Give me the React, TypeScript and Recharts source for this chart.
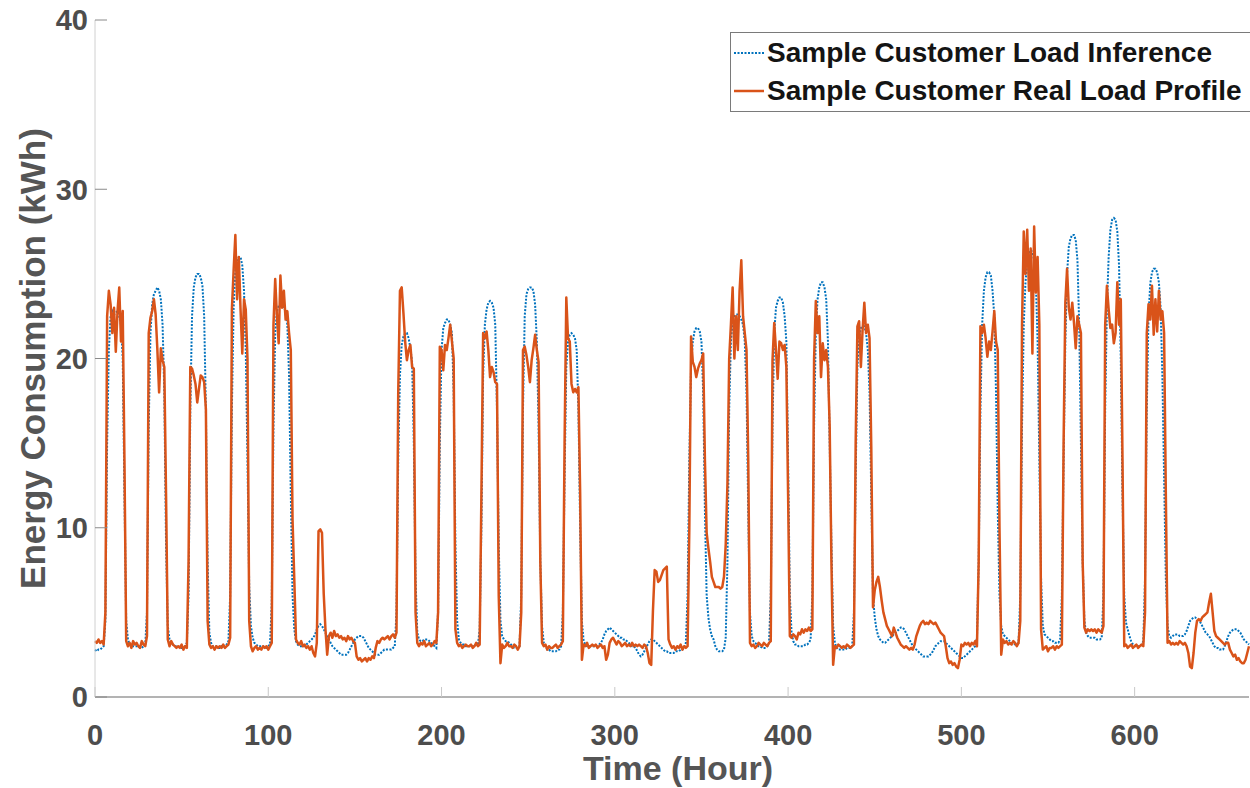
import React from 'react';
import { LineChart, Line, XAxis, YAxis, Legend, Label } from 'recharts';

// hourly values, one line per day (24 h)
const inferenceLoad = [
  2.8, 2.7, 2.8, 2.8, 2.9, 3.0, 4.5, 15, 20.5, 22.5, 22.8, 22.6, 22.7, 22.8, 22.5, 22.0, 20, 12, 4.5, 3.4, 3.1, 3.0, 3.0, 3.0,
  3.0, 3.0, 2.9, 2.9, 3.0, 3.1, 5, 16, 21.5, 23.2, 23.8, 24.0, 24.2, 24.0, 23.5, 22.0, 18, 9, 4.2, 3.4, 3.2, 3.1, 3.0, 3.0,
  3.0, 2.9, 2.9, 2.9, 3.0, 3.2, 6, 17, 22.5, 24.2, 24.8, 25.0, 25.0, 24.8, 24.3, 22.5, 17, 8, 3.8, 3.2, 3.0, 3.0, 3.0, 2.9,
  2.9, 3.0, 2.9, 3.0, 3.1, 3.3, 6, 17, 23, 25.2, 25.8, 26.0, 26.0, 25.5, 24.0, 20.5, 14, 6.5, 4.2, 3.5, 3.2, 3.1, 3.0, 3.0,
  3.0, 3.0, 2.9, 2.9, 3.0, 3.1, 5.5, 16, 21.5, 22.8, 23.1, 23.2, 23.1, 23.0, 22.8, 22.0, 19, 12, 6, 4.0, 3.3, 3.1, 3.0, 3.0,
  3.0, 3.0, 3.1, 3.2, 3.3, 3.4, 3.5, 3.7, 4.0, 4.2, 4.3, 4.2, 4.0, 3.8, 3.6, 3.4, 3.2, 3.0, 2.9, 2.8, 2.7, 2.6, 2.5, 2.5,
  2.5, 2.5, 2.6, 2.8, 3.0, 3.2, 3.4, 3.5, 3.6, 3.6, 3.6, 3.5, 3.3, 3.1, 2.9, 2.8, 2.7, 2.6, 2.5, 2.5, 2.5, 2.6, 2.7, 2.8,
  2.8, 2.8, 2.8, 2.8, 2.9, 3.0, 5, 14, 19, 20.8, 21.3, 21.5, 21.5, 21.2, 20.6, 19.8, 15, 7, 3.8, 3.4, 3.3, 3.3, 3.4, 3.4,
  3.4, 3.3, 3.2, 3.1, 3.0, 2.9, 5, 15, 20.5, 21.8, 22.1, 22.3, 22.3, 22.0, 21.5, 18, 9, 4.5, 3.4, 3.2, 3.1, 3.1, 3.0, 3.0,
  3.0, 3.0, 3.0, 3.0, 3.1, 3.1, 4, 10, 19, 22.0, 22.9, 23.3, 23.4, 23.3, 23.0, 22.0, 17, 9, 4.5, 3.6, 3.4, 3.3, 3.3, 3.2,
  3.1, 3.0, 2.9, 2.9, 2.9, 3.0, 6, 17, 22.5, 23.8, 24.1, 24.2, 24.2, 24.0, 23.2, 21.0, 16, 8, 4.2, 3.2, 3.0, 2.8, 2.8, 2.7,
  2.7, 2.7, 2.7, 2.8, 2.8, 3.0, 5, 13, 19.5, 21.0, 21.4, 21.5, 21.4, 21.2, 20.5, 17, 10, 4.5, 3.3, 3.1, 3.0, 3.0, 3.0, 3.0,
  3.0, 3.0, 3.0, 3.1, 3.2, 3.4, 3.7, 3.9, 4.0, 4.1, 4.0, 3.9, 3.8, 3.7, 3.6, 3.5, 3.5, 3.4, 3.4, 3.3, 3.2, 3.1, 3.0, 3.0,
  2.9, 2.7, 2.5, 2.4, 2.5, 2.7, 2.9, 3.1, 3.3, 3.4, 3.4, 3.3, 3.2, 3.1, 3.0, 2.9, 2.8, 2.7, 2.7, 2.6, 2.6, 2.6, 2.6, 2.7,
  2.7, 2.7, 2.8, 2.8, 2.9, 3.2, 6, 14, 19.5, 21.0, 21.6, 21.8, 21.8, 21.6, 21.0, 18, 11, 6, 4.7, 4.0, 3.6, 3.4, 3.0, 2.8,
  2.7, 2.7, 2.7, 2.8, 3.5, 8, 17, 21.0, 22.2, 22.5, 22.6, 22.6, 22.5, 22.3, 22.0, 21.0, 18, 11, 5, 3.6, 3.3, 3.2, 3.1, 3.0,
  3.0, 2.9, 2.9, 2.9, 3.0, 3.2, 6, 16, 21.5, 23.0, 23.4, 23.6, 23.6, 23.3, 22.5, 21, 14, 6, 3.8, 3.3, 3.1, 3.1, 3.0, 3.0,
  3.0, 3.0, 3.1, 3.1, 3.2, 3.4, 6, 16, 21.5, 23.5, 24.2, 24.5, 24.5, 24.2, 23.5, 21, 15, 9, 4.2, 3.2, 2.9, 2.8, 2.8, 2.8,
  2.8, 2.8, 2.9, 2.9, 2.9, 3.0, 5, 13, 19.5, 21.2, 21.8, 21.9, 21.9, 21.5, 20.5, 18, 12, 6, 4.7, 4.0, 3.6, 3.4, 3.3, 3.2,
  3.2, 3.3, 3.4, 3.5, 3.6, 3.7, 3.8, 3.9, 4.0, 4.1, 4.1, 4.0, 3.8, 3.6, 3.4, 3.2, 3.0, 2.9, 2.8, 2.7, 2.6, 2.5, 2.4, 2.4,
  2.4, 2.4, 2.5, 2.6, 2.8, 3.0, 3.1, 3.2, 3.3, 3.3, 3.3, 3.2, 3.1, 3.0, 2.9, 2.8, 2.7, 2.6, 2.5, 2.4, 2.3, 2.3, 2.4, 2.5,
  2.6, 2.7, 2.8, 2.9, 3.0, 3.5, 8, 17, 22, 24.0, 24.8, 25.1, 25.1, 24.9, 24.0, 22.5, 18, 11, 6, 4.2, 3.7, 3.6, 3.5, 3.4,
  3.3, 3.2, 3.2, 3.1, 3.1, 3.2, 6, 16, 22, 24.5, 25.6, 26.2, 26.4, 26.3, 25.8, 24.5, 21, 14, 7, 4.2, 3.7, 3.6, 3.5, 3.4,
  3.3, 3.3, 3.2, 3.2, 3.2, 3.4, 6, 14, 21, 25, 26.6, 27.1, 27.3, 27.3, 27.0, 25.8, 22, 15, 8, 4.5, 3.8, 3.6, 3.5, 3.5,
  3.5, 3.5, 3.4, 3.4, 3.4, 3.5, 6, 17, 23, 26, 27.6, 28.2, 28.3, 28.2, 27.5, 25.5, 20, 12, 6, 4.4, 4.0, 3.6, 3.3, 3.1,
  3.0, 3.0, 3.0, 3.0, 3.1, 3.3, 7, 17, 22.5, 24.4, 25.1, 25.3, 25.3, 25.1, 24.5, 23, 19, 13, 7, 4.2, 3.6, 3.5, 3.6, 3.7,
  3.7, 3.7, 3.6, 3.6, 3.6, 3.7, 3.9, 4.2, 4.5, 4.6, 4.7, 4.7, 4.6, 4.5, 4.4, 4.2, 4.0, 3.8, 3.7, 3.6, 3.4, 3.2, 3.0, 2.9,
  2.9, 2.8, 2.8, 2.8, 3.0, 3.3, 3.6, 3.8, 3.9, 4.0, 4.0, 4.0, 3.9, 3.8, 3.6, 3.4, 3.3, 3.2, 3.1,
];

const realLoad = [
  3.3, 3.2, 3.4, 3.2, 3.3, 3.1, 5, 22.5, 24.0, 23.2, 21.5, 23.0, 20.4, 22.8, 24.2, 21.0, 22.8, 14, 3.3, 3.0, 3.2, 2.9, 3.3, 3.1,
  3.2, 3.0, 2.9, 3.3, 3.1, 3.0, 3.6, 21.5, 22.4, 22.8, 23.5, 22.6, 20.5, 18.0, 20.6, 19.9, 19.5, 12, 3.4, 3.0, 3.3, 3.1, 3.0, 2.9,
  3.0, 2.9, 3.1, 2.8, 3.0, 2.9, 8, 19.5, 19.4, 19.0, 18.5, 17.4, 18.2, 19.0, 18.9, 18.6, 17.0, 4.5, 3.1, 2.9, 3.0, 2.8, 3.0, 2.9,
  3.0, 2.9, 3.1, 2.9, 3.0, 3.1, 3.5, 22.9, 25.2, 27.3, 23.5, 26.0, 22.9, 20.3, 23.5, 22.9, 20, 4.5, 3.0, 2.7, 2.9, 3.0, 2.8, 2.9,
  2.8, 3.0, 2.9, 3.0, 2.8, 3.0, 3.2, 22.0, 24.7, 22.5, 20.9, 24.9, 23.0, 24.0, 22.3, 22.8, 21.5, 20.5, 10.5, 7.0, 3.4, 3.2, 3.1, 3.3,
  3.0, 3.1, 2.9, 3.0, 2.8, 3.0, 2.6, 2.4, 3.2, 9.8, 9.9, 9.7, 6.1, 4.0, 2.5, 3.6, 3.8, 3.5, 3.9, 3.6, 3.7, 3.5, 3.6, 3.4,
  3.5, 3.3, 3.6, 3.4, 3.5, 3.3, 3.2, 2.4, 2.2, 2.3, 2.1, 2.2, 2.3, 2.1, 2.3, 2.2, 2.4, 2.3, 2.9, 3.3, 3.2, 3.4, 3.5, 3.4,
  3.5, 3.6, 3.4, 3.6, 3.7, 3.5, 3.8, 18, 24.0, 24.2, 22.7, 21.0, 19.9, 20.5, 20.8, 19.5, 19.4, 5, 3.2, 3.0, 3.2, 3.1, 3.3, 3.0,
  3.1, 3.2, 3.0, 3.1, 3.3, 3.2, 5, 20.7, 20.5, 19.3, 20.8, 20.5, 21.2, 22.0, 21.0, 20, 4, 3.2, 3.0, 3.1, 2.9, 3.0, 3.1, 3.0,
  3.0, 3.1, 2.9, 3.0, 3.2, 3.0, 3.1, 12, 21.5, 21.2, 21.6, 20.5, 18.9, 19.5, 19.2, 18.6, 18.5, 6, 2.0, 3.1, 2.9, 3.0, 3.2, 3.0,
  3.0, 2.9, 3.1, 3.0, 2.8, 3.0, 5, 20.5, 20.7, 20.2, 19.5, 18.6, 19.9, 20.6, 21.4, 20.5, 19.8, 8, 3.2, 3.0, 3.1, 2.8, 3.0, 2.9,
  2.9, 3.0, 3.1, 2.9, 3.0, 3.1, 3.3, 15, 23.6, 21.2, 21.0, 18.5, 18.0, 18.2, 18.0, 18.3, 12, 2.2, 3.1, 3.0, 3.2, 2.9, 3.0, 3.1,
  3.0, 3.1, 2.9, 3.0, 3.1, 2.9, 3.0, 2.2, 2.5, 3.2, 3.4, 3.5, 3.3, 3.1, 3.3, 3.2, 3.0, 3.1, 3.2, 3.0, 3.1, 3.0, 3.2, 3.0,
  3.1, 3.0, 3.1, 3.0, 2.9, 3.1, 3.0, 2.6, 2.0, 1.9, 5.1, 7.5, 7.4, 6.8, 6.9, 7.2, 7.5, 7.6, 7.7, 3.4, 3.1, 2.9, 3.0, 2.8,
  3.0, 2.9, 3.1, 2.8, 3.0, 2.9, 3.0, 10, 21.3, 19.8, 19.5, 18.9, 19.4, 19.7, 19.9, 20.3, 14, 9.7, 8.8, 8.0, 7.1, 6.8, 6.5, 6.5,
  6.5, 6.4, 6.5, 7.1, 9, 12.6, 20, 22.0, 24.2, 20.0, 22.5, 20.5, 24.0, 25.8, 22.5, 21.5, 20.5, 14, 3.2, 3.0, 3.1, 2.9, 3.0, 3.2,
  3.1, 3.0, 3.2, 3.1, 3.0, 3.2, 3.3, 19.9, 22.1, 20.5, 18.8, 21.0, 20.9, 20.5, 20.8, 19.5, 12, 3.6, 3.5, 3.7, 3.6, 3.4, 3.8, 3.7,
  4.0, 3.8, 4.0, 3.9, 4.1, 3.9, 4.0, 20, 23.4, 21.5, 22.5, 18.9, 20.9, 19.9, 20.5, 19.5, 16, 8, 1.9, 3.0, 2.9, 3.1, 3.0, 2.9,
  3.0, 2.9, 3.1, 3.0, 2.9, 3.0, 3.1, 15, 21.9, 22.2, 19.5, 21.7, 23.3, 21.5, 22.0, 21.2, 14.8, 5.3, 6.3, 6.8, 7.1, 6.5, 5.7, 5.0,
  4.6, 4.2, 4.0, 3.8, 3.6, 4.1, 3.8, 3.5, 3.3, 3.1, 3.0, 2.9, 3.0, 2.9, 2.8, 2.9, 2.8, 3.1, 3.6, 3.9, 4.2, 4.4, 4.5, 4.3,
  4.4, 4.3, 4.5, 4.4, 4.3, 4.4, 4.2, 4.0, 3.8, 3.7, 3.6, 3.0, 2.3, 2.0, 2.1, 1.9, 2.0, 1.8, 1.7, 2.2, 3.1, 3.0, 3.2, 3.1,
  3.2, 3.0, 3.2, 3.1, 3.3, 3.0, 8, 21.9, 21.5, 22.0, 21.2, 20.1, 21.0, 20.5, 21.6, 22.8, 21.0, 20.5, 10, 2.5, 3.4, 3.2, 3.3, 3.1,
  3.2, 3.1, 3.3, 3.2, 3.0, 3.2, 4.5, 22, 27.5, 25.0, 27.6, 24.0, 26.5, 20.3, 27.8, 23.9, 26.0, 22.0, 4.0, 2.8, 2.9, 3.0, 2.7, 2.9,
  2.9, 3.0, 2.8, 3.0, 2.9, 3.0, 3.1, 15, 23.3, 25.3, 23.0, 22.3, 23.3, 22.1, 20.6, 22.5, 22.0, 21.5, 8, 4.1, 3.8, 4.0, 3.9, 4.0,
  3.9, 4.0, 3.8, 4.0, 3.9, 3.8, 4.2, 22.0, 24.3, 22.9, 21.8, 22.0, 20.9, 21.5, 24.5, 22.0, 23.5, 14, 3.0, 3.1, 2.9, 3.0, 3.1, 2.9,
  3.0, 3.1, 2.9, 3.0, 3.1, 3.0, 5, 21.5, 23.2, 22.3, 24.3, 21.4, 23.5, 21.6, 24.0, 22.3, 22.8, 21.5, 12, 3.2, 3.3, 3.1, 3.2, 3.1,
  3.2, 3.1, 3.3, 3.2, 3.1, 3.2, 3.0, 2.6, 1.8, 1.7, 2.6, 3.8, 4.5, 4.6, 4.5, 4.7, 4.8, 4.9, 5.0, 5.6, 6.1, 5.0, 3.9, 3.6,
  3.5, 3.4, 3.3, 3.2, 3.1, 3.2, 3.2, 2.8, 2.6, 2.4, 2.5, 2.2, 2.3, 2.1, 2.0, 2.0, 2.2, 2.6, 3.0,
];

const hourTicks = [0, 100, 200, 300, 400, 500, 600];
const energyTicks = [0, 10, 20, 30, 40];
const seriesNames = ['Sample Customer Load Inference', 'Sample Customer Real Load Profile'];

const rows = inferenceLoad.map((v, i) => ({ hour: i, inference: v, real: realLoad[i] }));

const FONT = '"Liberation Sans", Arial, Helvetica, sans-serif';
const BLUE = '#0072BD';
const ORANGE = '#D95319';

const tickStyle = { fill: '#4d4d4d', fontSize: 29, fontWeight: 700, fontFamily: FONT };

function LegendBox(props: any) {
  const { payload = [] } = props;
  return (
    <div
      style={{
        border: '1px solid #7a7a7a',
        borderRight: 'none',
        background: '#fff',
        paddingTop: 1,
        paddingBottom: 1,
      }}
    >
      {payload.map((entry: any) => (
        <div key={entry.value} style={{ display: 'flex', alignItems: 'center', height: 38 }}>
          <svg width={34} height={10} style={{ marginLeft: 2 }}>
            <line
              x1={1}
              y1={5}
              x2={31}
              y2={5}
              stroke={entry.color}
              strokeWidth={entry.dataKey === 'inference' ? 2 : 2.5}
              strokeDasharray={entry.dataKey === 'inference' ? '2 1.5' : undefined}
            />
          </svg>
          <span style={{ fontSize: 28, fontWeight: 700, color: '#141414', fontFamily: FONT, whiteSpace: 'nowrap' }}>
            {entry.value}
          </span>
        </div>
      ))}
    </div>
  );
}

export default function App() {
  return (
    <div style={{ position: 'absolute', left: 0, top: 0, width: 1250, height: 788, background: '#fff' }}>
      <LineChart width={1250} height={788} data={rows} margin={{ top: 20, right: 1, left: 0, bottom: 0 }}>
        <XAxis
          xAxisId="bottom"
          dataKey="hour"
          type="number"
          domain={[0, 666]}
          ticks={hourTicks}
          interval={0}
          height={91}
          tickSize={-10}
          tickMargin={37}
          tick={tickStyle}
          axisLine={{ stroke: '#9a9a9a', strokeWidth: 1.5 }}
          tickLine={{ stroke: '#c8c8c8' }}
        >
          <Label
            value="Time (Hour)"
            position="insideBottom"
            offset={8}
            dx={6}
            style={{ fill: '#555', fontSize: 34, fontWeight: 700, fontFamily: FONT }}
          />
        </XAxis>
        <XAxis
          xAxisId="top"
          orientation="top"
          dataKey="hour"
          type="number"
          domain={[0, 666]}
          ticks={hourTicks}
          interval={0}
          height={0}
          tick={false}
          tickSize={-8}
          axisLine={{ stroke: '#e6e6e6' }}
          tickLine={{ stroke: '#dcdcdc' }}
        />
        <YAxis
          yAxisId="left"
          domain={[0, 40]}
          ticks={energyTicks}
          interval={0}
          width={95}
          tickSize={-12}
          tickMargin={19}
          tick={tickStyle}
          axisLine={{ stroke: '#d0d0d0' }}
          tickLine={{ stroke: '#8a8a8a' }}
        >
          <Label
            value="Energy Consumption (kWh)"
            angle={-90}
            position="center"
            dx={-15}
            style={{ fill: '#555', fontSize: 35, fontWeight: 700, fontFamily: FONT, textAnchor: 'middle' }}
          />
        </YAxis>
        <YAxis
          yAxisId="right"
          orientation="right"
          domain={[0, 40]}
          ticks={energyTicks}
          interval={0}
          width={0}
          tick={false}
          tickSize={-10}
          axisLine={false}
          tickLine={{ stroke: '#8a8a8a' }}
        />
        <Legend
          content={<LegendBox />}
          layout="vertical"
          align="center"
          verticalAlign="middle"
          wrapperStyle={{ top: 32, left: 730, width: 520, height: 'auto' }}
        />
        <Line
          xAxisId="bottom"
          yAxisId="left"
          type="linear"
          dataKey="inference"
          name={seriesNames[0]}
          stroke={BLUE}
          strokeWidth={2}
          strokeDasharray="2 1.5"
          dot={false}
          isAnimationActive={false}
        />
        <Line
          xAxisId="bottom"
          yAxisId="left"
          type="linear"
          dataKey="real"
          name={seriesNames[1]}
          stroke={ORANGE}
          strokeWidth={2.5}
          strokeLinejoin="round"
          dot={false}
          isAnimationActive={false}
        />
      </LineChart>
    </div>
  );
}
